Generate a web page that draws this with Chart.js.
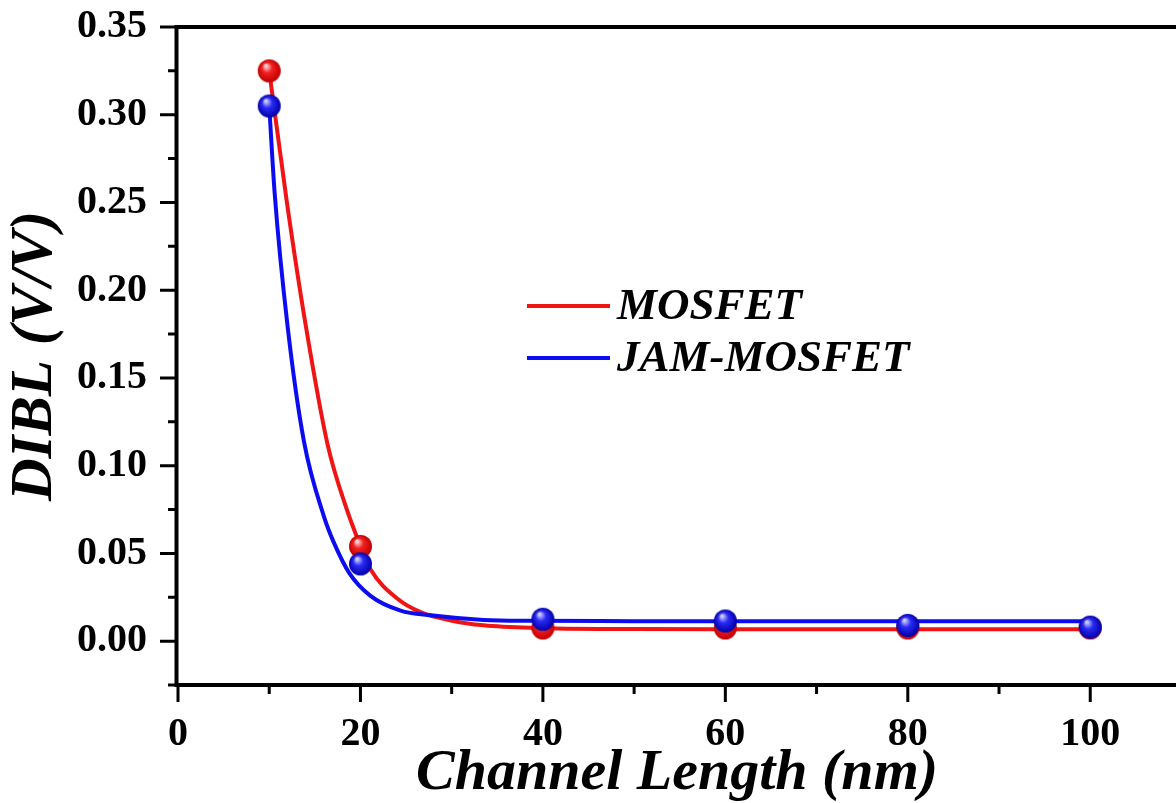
<!DOCTYPE html>
<html>
<head>
<meta charset="utf-8">
<title>DIBL vs Channel Length</title>
<script src="https://cdn.jsdelivr.net/npm/chart.js@4.4.1/dist/chart.umd.min.js"></script>
<style>
  html, body { margin: 0; padding: 0; background: #fff; overflow: hidden; }
  #wrap { position: relative; width: 1176px; height: 803px; }
</style>
</head>
<body>
<div id="wrap"><canvas id="dibl-chart"></canvas></div>
<script>
'use strict';

// simulated DIBL at each channel length
var lengths = [10, 20, 40, 60, 80, 100];
var mosfetDibl = [0.325, 0.054, 0.0075, 0.0075, 0.0075, 0.0075];
var jamDibl = [0.305, 0.044, 0.0125, 0.0115, 0.009, 0.008];

// fitted decay curves
var mosfetFitX = [10, 11.9, 14.0, 16.4, 18.4, 20, 21.1, 24.1, 26.6, 29.9, 33.5, 39, 50, 60, 80, 100];
var mosfetFitY = [0.325, 0.2514, 0.180, 0.112, 0.0766, 0.0542, 0.041, 0.024, 0.0165, 0.0118, 0.0090, 0.0075, 0.0069, 0.0068, 0.0068, 0.0068];
var jamFitX = [10, 10.6, 12.0, 13.8, 16.0, 17.1, 18.8, 21.1, 24.4, 27.7, 33.5, 39, 50, 60, 80, 100];
var jamFitY = [0.305, 0.255, 0.180, 0.114, 0.071, 0.056, 0.0386, 0.0258, 0.0174, 0.0147, 0.0121, 0.0116, 0.0114, 0.0113, 0.0113, 0.0113];

var xTicks = [0, 20, 40, 60, 80, 100];
var xMinorTicks = [10, 30, 50, 70, 90];
var yTicks = [0, 0.05, 0.10, 0.15, 0.20, 0.25, 0.30, 0.35];
var yMinorTicks = [-0.025, 0.025, 0.075, 0.125, 0.175, 0.225, 0.275, 0.325];

var RED = '#f01414';
var BLUE = '#0c0cf0';
var SERIF = "'Liberation Serif', 'Times New Roman', serif";

function toPoints(xs, ys) {
  var pts = [];
  for (var i = 0; i < xs.length; i++) {
    pts.push({x: xs[i], y: ys[i]});
  }
  return pts;
}

// shaded ball used as the point marker
function sphere(light, mid, dark, r) {
  var c = document.createElement('canvas');
  c.width = c.height = r * 2 + 2;
  var g = c.getContext('2d');
  var cx = r + 1, cy = r + 1;
  var grad = g.createRadialGradient(cx - r * 0.3, cy - r * 0.45, r * 0.08, cx, cy, r);
  grad.addColorStop(0, light);
  grad.addColorStop(0.4, mid);
  grad.addColorStop(1, dark);
  g.fillStyle = grad;
  g.beginPath();
  g.arc(cx, cy, r, 0, Math.PI * 2);
  g.fill();
  return c;
}

var redBall = sphere('#ffd6d6', '#f22020', '#c00000', 11.5);
var blueBall = sphere('#d0d0ff', '#2a2af5', '#0000a8', 11.5);

// frame, tick marks and legend drawn on top of the scales
var framePlugin = {
  id: 'frame',
  afterDraw: function(chart) {
    var ctx = chart.ctx;
    var area = chart.chartArea;
    var xs = chart.scales.x;
    var ys = chart.scales.y;
    ctx.save();
    ctx.strokeStyle = '#000';
    ctx.lineCap = 'butt';

    ctx.lineWidth = 4;
    ctx.beginPath();
    ctx.moveTo(area.left - 2, area.top);
    ctx.lineTo(chart.width, area.top);
    ctx.moveTo(area.left - 1.5, area.top - 2);
    ctx.lineTo(area.left - 1.5, area.bottom + 2);
    ctx.moveTo(area.left - 3.5, area.bottom);
    ctx.lineTo(chart.width, area.bottom);
    ctx.stroke();

    ctx.lineWidth = 3;
    ctx.beginPath();
    yTicks.forEach(function(v) {
      var py = ys.getPixelForValue(v);
      ctx.moveTo(area.left - 18, py);
      ctx.lineTo(area.left, py);
    });
    yMinorTicks.forEach(function(v) {
      var py = ys.getPixelForValue(v);
      ctx.moveTo(area.left - 10, py);
      ctx.lineTo(area.left, py);
    });
    xTicks.forEach(function(v) {
      var px = xs.getPixelForValue(v);
      ctx.moveTo(px, area.bottom);
      ctx.lineTo(px, area.bottom + 17);
    });
    xMinorTicks.forEach(function(v) {
      var px = xs.getPixelForValue(v);
      ctx.moveTo(px, area.bottom);
      ctx.lineTo(px, area.bottom + 9);
    });
    ctx.stroke();

    // legend
    var ly = 306;
    ctx.font = 'italic bold 45px ' + SERIF;
    ctx.textBaseline = 'middle';
    ctx.textAlign = 'left';
    chart.data.datasets.forEach(function(ds) {
      if (!ds.inLegend) return;
      ctx.strokeStyle = ds.borderColor;
      ctx.lineWidth = 4;
      ctx.beginPath();
      ctx.moveTo(527, ly);
      ctx.lineTo(610, ly);
      ctx.stroke();
      ctx.fillStyle = '#000';
      ctx.fillText(ds.label, 617, ly + 1);
      ly += 52;
    });
    ctx.restore();
  }
};

var ctx = document.getElementById('dibl-chart');
new Chart(ctx, {
  type: 'scatter',
  data: {
    datasets: [{
      label: 'MOSFET',
      inLegend: true,
      data: toPoints(mosfetFitX, mosfetFitY),
      showLine: true,
      borderColor: RED,
      borderWidth: 4,
      pointRadius: 0,
      cubicInterpolationMode: 'monotone',
      order: 3
    }, {
      label: 'JAM-MOSFET',
      inLegend: true,
      data: toPoints(jamFitX, jamFitY),
      showLine: true,
      borderColor: BLUE,
      borderWidth: 4,
      pointRadius: 0,
      cubicInterpolationMode: 'monotone',
      order: 2
    }, {
      label: 'MOSFET points',
      data: toPoints(lengths, mosfetDibl),
      pointStyle: redBall,
      pointRadius: 11,
      order: 1
    }, {
      label: 'JAM-MOSFET points',
      data: toPoints(lengths, jamDibl),
      pointStyle: blueBall,
      pointRadius: 11,
      order: 0
    }]
  },
  options: {
    responsive: true,
    maintainAspectRatio: false,
    animation: false,
    events: [],
    layout: {autoPadding: false, padding: {top: 27, right: 0, bottom: 0, left: 0}},
    plugins: {
      legend: {display: false},
      tooltip: {enabled: false}
    },
    scales: {
      x: {
        type: 'linear',
        min: 0,
        max: 109.4,
        // grid hidden; tickLength only offsets the labels
        grid: {display: false, drawTicks: true, tickLength: 26},
        border: {display: false},
        afterBuildTicks: function(scale) {
          scale.ticks = xTicks.map(function(v) { return {value: v}; });
        },
        afterFit: function(scale) {
          scale.height = 118;
          scale.paddingLeft = 0;
          scale.paddingRight = 0;
        },
        ticks: {
          padding: 0,
          color: '#000',
          maxRotation: 0,
          font: {family: SERIF, size: 40, weight: 'bold'},
          callback: function(v) { return String(v); }
        },
        title: {
          display: true,
          text: 'Channel Length (nm)',
          color: '#000',
          padding: {top: 0, bottom: 0},
          font: {family: SERIF, size: 58, weight: 'bold', style: 'italic', lineHeight: 1}
        }
      },
      y: {
        type: 'linear',
        min: -0.025,
        max: 0.35,
        grid: {display: false, drawTicks: true, tickLength: 31},
        border: {display: false},
        afterBuildTicks: function(scale) {
          scale.ticks = yTicks.map(function(v) { return {value: v}; });
        },
        afterFit: function(scale) {
          scale.width = 178;
          scale.paddingTop = 0;
          scale.paddingBottom = 0;
        },
        ticks: {
          padding: 0,
          color: '#000',
          font: {family: SERIF, size: 40, weight: 'bold'},
          callback: function(v) { return v.toFixed(2); }
        },
        title: {
          display: true,
          text: 'DIBL (V/V)',
          color: '#000',
          padding: {top: 6, bottom: 0},
          font: {family: SERIF, size: 59, weight: 'bold', style: 'italic', lineHeight: 1}
        }
      }
    }
  },
  plugins: [framePlugin]
});
</script>
</body>
</html>
